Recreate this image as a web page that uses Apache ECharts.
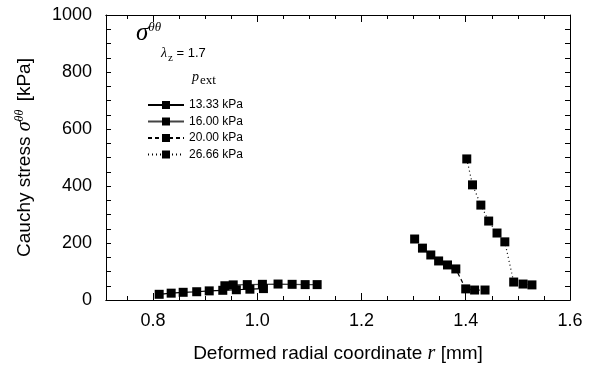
<!DOCTYPE html>
<html>
<head>
<meta charset="utf-8">
<script src="https://cdn.jsdelivr.net/npm/echarts@6/dist/echarts.min.js"></script>
<style>
  html, body { margin: 0; padding: 0; background: #fff; }
  #chart { width: 592px; height: 369px; }
</style>
</head>
<body>
<div id="chart"></div>
<script>
// values
const seriesNames = ["13.33 kPa", "16.00 kPa", "20.00 kPa", "26.66 kPa"];

const r1333 = [0.812, 0.835, 0.858, 0.884, 0.908, 0.934, 0.960, 0.986, 1.012];
const s1333 = [20, 24, 27, 29, 32, 34, 36, 38, 40];

const r1600 = [0.938, 0.954, 0.981, 1.010, 1.040, 1.067, 1.092, 1.115];
const s1600 = [50, 53, 54, 55, 56, 55, 54, 54];

const r2000 = [1.302, 1.317, 1.333, 1.348, 1.365, 1.381, 1.400, 1.417, 1.437];
const s2000 = [214, 182, 158, 137, 123, 109, 39, 35, 35];

const r2666 = [1.402, 1.413, 1.429, 1.444, 1.460, 1.475, 1.492, 1.510, 1.527];
const s2666 = [495, 404, 333, 277, 235, 204, 63, 56, 53];

const xMajorTicks = [0.8, 1.0, 1.2, 1.4, 1.6];
const xMinorTicks = [0.75, 0.8, 0.85, 0.9, 0.95, 1.0, 1.05, 1.1, 1.15, 1.2, 1.25, 1.3, 1.35, 1.4, 1.45, 1.5, 1.55, 1.6];

const FONT = "Liberation Sans, Arial, sans-serif";
const SERIF = "Liberation Serif, Times New Roman, serif";

const zip = (xs, ys) => xs.map((x, i) => [x, ys[i]]);

const chart = echarts.init(document.getElementById("chart"), null, { renderer: "canvas" });

function xAxisDef(position, ticks, len, withLabels) {
  return {
    type: "value",
    position,
    min: 0.71,
    max: 1.6,
    axisLine: { show: true, onZero: false, lineStyle: { color: "#000", width: 1 } },
    axisTick: { show: true, inside: true, length: len, customValues: ticks, lineStyle: { color: "#000" } },
    axisLabel: withLabels
      ? { show: true, customValues: xMajorTicks, margin: 12, color: "#000", fontSize: 18, fontFamily: FONT,
          formatter: (v) => v.toFixed(1) }
      : { show: false },
    splitLine: { show: false },
  };
}

function yAxisDef(position, withLabels) {
  return {
    type: "value",
    position,
    min: 0,
    max: 1000,
    interval: 50,
    axisLine: { show: true, lineStyle: { color: "#000", width: 1 } },
    axisTick: { show: true, inside: true, length: 5, lineStyle: { color: "#000" } },
    axisLabel: withLabels
      ? { show: true, margin: 14, color: "#000", fontSize: 18, fontFamily: FONT,
          formatter: (v) => (v % 200 === 0 ? String(v) : "") }
      : { show: false },
    splitLine: { show: false },
  };
}

const lineTypes = ["solid", "solid", [4, 3], [1, 3]];
const lineColors = ["#000", "#444", "#000", "#000"];
const dataSets = [zip(r1333, s1333), zip(r1600, s1600), zip(r2000, s2000), zip(r2666, s2666)];

const series = seriesNames.map((name, i) => ({
  name,
  type: "line",
  xAxisIndex: 0,
  yAxisIndex: 0,
  data: dataSets[i],
  symbol: "rect",
  symbolSize: 9,
  itemStyle: { color: "#000" },
  lineStyle: { color: lineColors[i], width: 1.2, type: lineTypes[i] },
  animation: false,
}));

const xBottom = xAxisDef("bottom", xMajorTicks, 7, true);
xBottom.name = "Deformed radial coordinate {i|r} [mm]";
xBottom.nameLocation = "middle";
xBottom.nameGap = 44;
xBottom.nameTextStyle = {
  color: "#000", fontSize: 19, fontFamily: FONT,
  rich: { i: { fontFamily: SERIF, fontStyle: "italic", fontSize: 20, color: "#000" } },
};

const yLeft = yAxisDef("left", true);
yLeft.name = "Cauchy stress {s|σ}{sup|θθ} [kPa]";
yLeft.nameLocation = "middle";
yLeft.nameGap = 70;
yLeft.nameTextStyle = {
  color: "#000", fontSize: 19, fontFamily: FONT,
  rich: {
    s: { fontFamily: SERIF, fontStyle: "italic", fontSize: 20, color: "#000" },
    sup: { fontFamily: SERIF, fontStyle: "italic", fontSize: 12, color: "#000", verticalAlign: "top", padding: [0, 3, 10, 0] },
  },
};

chart.setOption({
  backgroundColor: "#fff",
  animation: false,
  grid: { left: 106, right: 22, top: 15, bottom: 69 },
  xAxis: [
    xBottom,
    xAxisDef("bottom", xMinorTicks, 4, false),
    xAxisDef("top", xMajorTicks, 7, false),
    xAxisDef("top", xMinorTicks, 4, false),
  ],
  yAxis: [yLeft, yAxisDef("right", false)],
  legend: {
    orient: "vertical",
    left: 147,
    top: 99,
    padding: 0,
    itemWidth: 36,
    itemHeight: 10,
    itemGap: 4.5,
    data: seriesNames,
    textStyle: { color: "#000", fontSize: 12, fontFamily: FONT },
  },
  graphic: [
    {
      type: "text", left: 136, top: 21,
      style: {
        text: "{s|σ}{sup|θθ}",
        rich: {
          s: { fontFamily: SERIF, fontStyle: "italic", fontSize: 25, fill: "#000" },
          sup: { fontFamily: SERIF, fontStyle: "italic", fontSize: 13, fill: "#000", verticalAlign: "top", padding: [0, 0, 12, 0] },
        },
      },
    },
    {
      type: "text", left: 161, top: 46,
      style: {
        text: "{l|λ}{sub|z}{t| = 1.7}",
        rich: {
          l: { fontFamily: SERIF, fontStyle: "italic", fontSize: 14, fill: "#000" },
          sub: { fontFamily: SERIF, fontSize: 11, fill: "#000", verticalAlign: "bottom", padding: [10, 0, 0, 1] },
          t: { fontFamily: FONT, fontSize: 13, fill: "#000" },
        },
      },
    },
    {
      type: "text", left: 192, top: 70,
      style: {
        text: "{p|p}{sub|ext}",
        rich: {
          p: { fontFamily: SERIF, fontStyle: "italic", fontSize: 14, fill: "#000" },
          sub: { fontFamily: SERIF, fontSize: 13, fill: "#000", verticalAlign: "bottom", padding: [8, 0, 0, 1] },
        },
      },
    },
  ],
  series,
});
</script>
</body>
</html>
